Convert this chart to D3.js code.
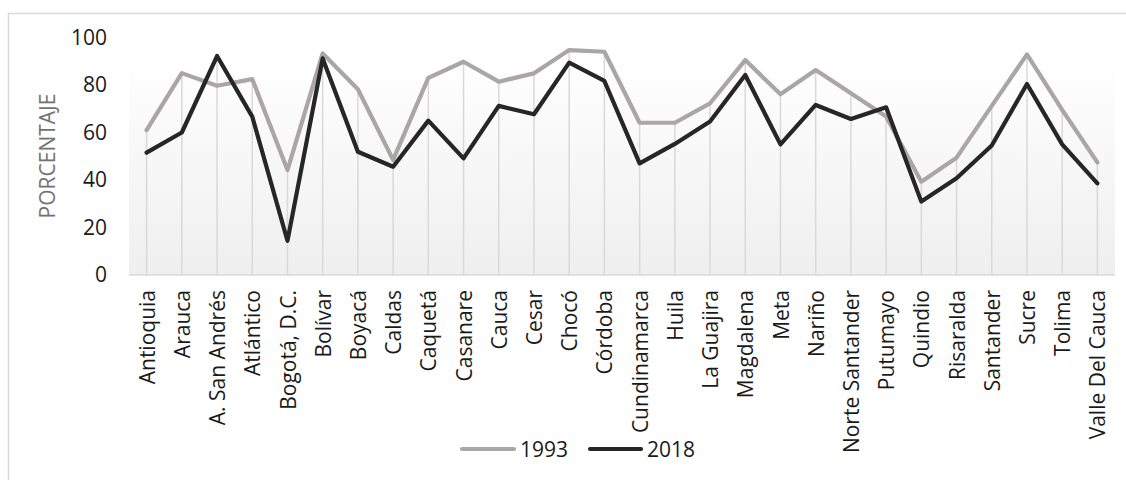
<!DOCTYPE html>
<html><head><meta charset="utf-8">
<script src="https://cdn.jsdelivr.net/npm/d3@7"></script>
<style>body{margin:0;background:#fff}svg{display:block}</style>
</head><body>
<svg id="c" width="1126" height="480"></svg>
<script>
const categories = ["Antioquia","Arauca","A. San Andrés","Atlántico","Bogotá, D.C.","Bolívar","Boyacá","Caldas","Caquetá","Casanare","Cauca","Cesar","Chocó","Córdoba","Cundinamarca","Huila","La Guajira","Magdalena","Meta","Nariño","Norte Santander","Putumayo","Quindio","Risaralda","Santander","Sucre","Tolima","Valle Del Cauca"];
const values1993 = [61,85,79.7,82.5,44.2,93.3,78.2,48.5,83,89.8,81.4,84.9,94.7,94,64.1,64.1,72.3,90.5,76.1,86.3,76.5,66.7,39.3,49.4,71.2,92.9,69.5,47.4];
const values2018 = [51.5,60,92.2,66.7,14.4,91.2,51.9,45.6,65,49.1,71.2,67.7,89.4,81.7,47,55.2,64.6,84.2,55,71.6,65.7,70.6,30.9,40.7,54.5,80.4,55,38.6];
const yTicks = [0,20,40,60,80,100];
const seriesNames = ["1993","2018"];
const colors = ["#aaa6a6","#262626"];

const svg = d3.select("#c");
const font = "'Open Sans', sans-serif";
const L = 129, R = 1115, T = 37.5, B = 275;

svg.append("rect").attr("x",8.5).attr("y",13.5).attr("width",1130).attr("height",480)
  .attr("fill","#fff").attr("stroke","#d9d9d9").attr("stroke-width",1.5);

const defs = svg.append("defs");
const g = defs.append("linearGradient").attr("id","bg").attr("x1",0).attr("y1",0).attr("x2",0).attr("y2",1);
g.append("stop").attr("offset","0%").attr("stop-color","#fefefe");
g.append("stop").attr("offset","100%").attr("stop-color","#efefef");

const x = d3.scalePoint().domain(categories).range([L,R]).padding(0.5);
const y = d3.scaleLinear().domain([0,100]).range([B,T]);

svg.append("rect").attr("x",L).attr("y",y(86.5)).attr("width",R-L).attr("height",B-y(86.5)).attr("fill","url(#bg)");

// drop lines
svg.append("g").selectAll("line").data(categories).join("line")
  .attr("x1",d=>x(d)).attr("x2",d=>x(d))
  .attr("y1",(d,i)=>y(Math.max(values1993[i],values2018[i])))
  .attr("y2",B).attr("stroke","#d9d9d9").attr("stroke-width",1.5);

// axis line
svg.append("line").attr("x1",L).attr("x2",R).attr("y1",B).attr("y2",B).attr("stroke","#d9d9d9").attr("stroke-width",1.5);

// y tick labels
const yAxis = d3.axisLeft(y).tickValues(yTicks).tickSize(0).tickPadding(0);
const ya = svg.append("g").attr("transform",`translate(107,0)`).call(yAxis);
ya.select(".domain").remove();
ya.selectAll("text").attr("font-family",font).attr("font-size",21).attr("fill","#1a1a1a");

// x labels
const xAxis = d3.axisBottom(x).tickSize(0).tickPadding(0);
const xa = svg.append("g").attr("transform",`translate(0,${B})`).call(xAxis);
xa.select(".domain").remove();
xa.selectAll("text").attr("font-family",font).attr("font-size",21).attr("fill","#1a1a1a")
  .attr("text-anchor","end").attr("transform","rotate(-90)")
  .attr("x",-15).attr("y",0).attr("dy","0.36em");

// y title
svg.append("text").attr("transform","translate(55,156) rotate(-90)").attr("text-anchor","middle")
  .attr("font-family",font).attr("font-size",21).attr("fill","#737373").text("PORCENTAJE");

// lines
const line = d3.line().x((d,i)=>x(categories[i])).y(d=>y(d));
[values1993, values2018].forEach((vals,k)=>{
  svg.append("path").datum(vals).attr("d",line).attr("fill","none")
    .attr("stroke",colors[k]).attr("stroke-width",4.2).attr("stroke-linejoin","round").attr("stroke-linecap","round");
});

// legend
const leg = [{x1:462,x2:514,tx:520},{x1:590,x2:641,tx:647}];
leg.forEach((p,k)=>{
  svg.append("line").attr("x1",p.x1).attr("x2",p.x2).attr("y1",449).attr("y2",449)
    .attr("stroke",colors[k]).attr("stroke-width",4.2).attr("stroke-linecap","round");
  svg.append("text").attr("x",p.tx).attr("y",449).attr("dy","0.36em")
    .attr("font-family",font).attr("font-size",21).attr("fill","#1a1a1a").text(seriesNames[k]);
});
</script>
</body></html>
